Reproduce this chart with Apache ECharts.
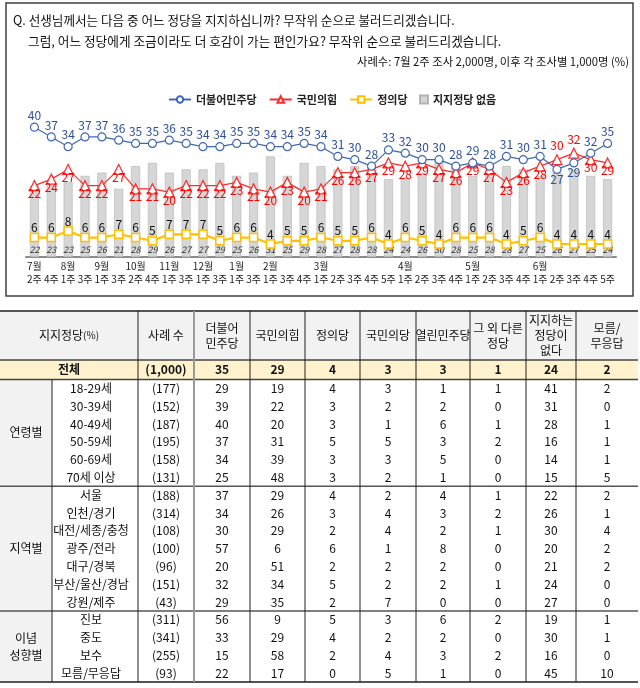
<!DOCTYPE html>
<html><head><meta charset="utf-8">
<script src="https://cdn.jsdelivr.net/npm/echarts@6/dist/echarts.min.js"></script>
<style>html,body{margin:0;padding:0;background:#fff}#c{width:640px;height:688px}</style>
</head><body><div id="c"></div>
<script>
// ---------- chart data ----------
const monthLabels = ['7월','','8월','','9월','','10월','','11월','','12월','','1월','','2월','','','3월','','','','','4월','','','','5월','','','','6월','','','',''];
const weekLabels  = ['2주','4주','1주','3주','1주','3주','2주','4주','1주','3주','1주','3주','1주','3주','1주','3주','4주','1주','2주','3주','4주','5주','1주','2주','3주','4주','1주','2주','3주','4주','1주','2주','3주','4주','5주'];
const minjuTrend   = [40,37,34,37,37,36,35,35,36,35,34,34,35,35,34,34,35,34,31,30,28,33,32,30,30,28,29,28,31,30,31,27,29,32,35];
const pppTrend     = [22,24,27,22,22,27,21,21,20,22,22,22,23,21,20,23,20,21,26,26,27,29,28,29,27,26,29,27,23,26,28,30,32,30,29];
const justiceTrend = [6,6,8,6,6,7,6,5,7,7,7,5,6,6,4,5,5,6,5,5,6,4,6,5,4,6,6,6,4,5,6,4,4,4,4];
const noneTrend    = [22,23,23,25,26,21,28,29,26,27,27,29,25,26,31,25,29,28,27,28,28,24,24,26,30,28,25,28,28,27,25,26,27,25,24];

// ---------- table data ----------
const headerLabels = ['사례 수','더불어\n민주당','국민의힘','정의당','국민의당','열린민주당','그 외 다른\n정당','지지하는\n정당이\n없다','모름/\n무응답'];
const totalLabel = '전체';
const totalRow = ['(1,000)','35','29','4','3','3','1','24','2'];
const groupNames = ['연령별','지역별','이념\n성향별'];
const ageLabels = ['18-29세','30-39세','40-49세','50-59세','60-69세','70세 이상'];
const regionLabels = ['서울','인천/경기','대전/세종/충청','광주/전라','대구/경북','부산/울산/경남','강원/제주'];
const ideoLabels = ['진보','중도','보수','모름/무응답'];
const sampleN   = ['(177)','(152)','(187)','(195)','(158)','(131)','(188)','(314)','(108)','(100)','(96)','(151)','(43)','(311)','(341)','(255)','(93)'];
const colMinju  = [29,39,40,37,34,25,37,34,30,57,20,32,29,56,33,15,22];
const colPPP    = [19,22,20,31,39,48,29,26,29,6,51,34,35,9,29,58,17];
const colJust   = [4,3,3,5,3,3,4,3,2,6,2,5,2,5,4,2,0];
const colPeople = [3,2,1,5,3,2,2,4,4,1,2,2,7,3,2,4,5];
const colOpen   = [1,2,6,3,5,1,4,3,2,8,2,2,0,6,2,3,1];
const colOther  = [1,0,1,2,0,0,1,2,1,0,0,1,0,2,0,2,0];
const colNone   = [41,31,28,16,14,15,22,26,30,20,21,24,27,19,30,16,45];
const colDK     = [2,0,1,1,1,5,2,1,4,2,2,0,0,1,1,0,10];

// ---------- styles ----------
const FONT = "'Noto Sans CJK KR','Noto Sans',sans-serif";
const blueBelow = [31,32];
const redAbove = [31,32];

const g = [];
function txt(x, y, text, o) {
  o = o || {};
  g.push({type:'text', x:x, y:y, z:5, silent:true, style:Object.assign({
    text:text, fontSize:12, fontFamily:FONT, fill:'#111',
    align:o.al||'center', textAlign:o.al||'center', verticalAlign:'middle', textVerticalAlign:'middle'
  }, o.st||{})});
}
function line(x1,y1,x2,y2,c,w){ g.push({type:'line', z:4, silent:true, shape:{x1,y1,x2,y2}, style:{stroke:c, lineWidth:w}}); }
function box(x,y,w,h,c){ g.push({type:'rect', z:1, silent:true, shape:{x,y,width:w,height:h}, style:{fill:c}}); }

// chart frame + header text
g.push({type:'rect', z:0, silent:true, shape:{x:6,y:3,width:627,height:293}, style:{fill:'none', stroke:'#404040', lineWidth:1.5}});
txt(13, 20, 'Q. 선생님께서는 다음 중 어느 정당을 지지하십니까? 무작위 순으로 불러드리겠습니다.', {al:'left', st:{fontSize:12.6}});
txt(28, 41, '그럼, 어느 정당에게 조금이라도 더 호감이 가는 편인가요? 무작위 순으로 불러드리겠습니다.', {al:'left', st:{fontSize:12.7}});
txt(629, 62, '사례수: 7월 2주 조사 2,000명, 이후 각 조사별 1,000명 (%)', {al:'right', st:{fontSize:11.3}});

// ---------- table ----------
const colX = [0, 52, 138, 194, 250, 305, 360, 416, 470, 526, 576, 638];
const tTop = 311, hBot = 360, totBot = 379.5, rowH = 17.8;
const cx = i => (colX[i] + colX[i+1]) / 2;
const groups = [ageLabels, regionLabels, ideoLabels];
const nBody = ageLabels.length + regionLabels.length + ideoLabels.length;
const tBot = totBot + nBody * rowH;

box(0, tTop, 638, hBot - tTop, '#f2f2f2');
box(0, hBot, 638, totBot - hBot, '#fff2cc');
box(0, totBot, 52, nBody * rowH, '#f2f2f2');

// header
g.push({type:'text', x:69, y:(tTop+hBot)/2, z:5, silent:true, style:{
  text:'{a|지지정당}{b|(%)}', align:'center', textAlign:'center', verticalAlign:'middle', textVerticalAlign:'middle',
  rich:{a:{fontSize:12, fontFamily:FONT, fill:'#111'}, b:{fontSize:10, fontFamily:FONT, fill:'#111'}}}});
headerLabels.forEach((h, k) => txt(cx(k+2), (tTop+hBot)/2, h, {st:{lineHeight:15}}));
// total row
txt(69, (hBot+totBot)/2, totalLabel, {st:{fontWeight:'bold'}});
totalRow.forEach((v, k) => txt(cx(k+2), (hBot+totBot)/2, v, {st:{fontWeight:'bold'}}));
// body
const bodyCols = [sampleN, colMinju, colPPP, colJust, colPeople, colOpen, colOther, colNone, colDK];
let r = 0, yStart = totBot;
groups.forEach((labels, gi) => {
  const gh = labels.length * rowH;
  txt(cx(0), yStart + gh/2, groupNames[gi], {st:{lineHeight:17}});
  labels.forEach((lab, li) => {
    const y = yStart + (li + 0.5) * rowH;
    txt(91, y, lab);
    bodyCols.forEach((col, k) => txt(cx(k+2), y, String(col[r])));
    r++;
  });
  yStart += gh;
  if (gi < groups.length - 1) line(0, yStart, 638, yStart, '#555', 1.5);
});
// lines
line(0, tTop, 638, tTop, '#555', 2);
line(0, hBot, 638, hBot, '#444', 1.5);
line(0, totBot, 638, totBot, '#444', 1.5);
line(0, tBot, 638, tBot, '#555', 2);
line(52, totBot, 52, tBot, '#222', 1);
for (let i = 2; i < colX.length - 1; i++) {
  if (i === 3) line(colX[i], tTop, colX[i], tBot, '#9a9a9a', 2);
  else line(colX[i], tTop, colX[i], tBot, '#222', 1);
}

// ---------- series data items ----------
const blueData = minjuTrend.map((v, i) => blueBelow.includes(i) ? {value:v, label:{offset:[0,10]}} : v);
const redData = pppTrend.map((v, i) => redAbove.includes(i) ? {value:v, label:{offset:[0,-14]}} : v);

const chart = echarts.init(document.getElementById('c'), null, {renderer:'canvas'});
chart.setOption({
  animation:false,
  textStyle:{fontFamily:FONT},
  grid:{left:26, right:24, top:111, height:146},
  legend:[
    {data:['더불어민주당','국민의힘','정의당'], left:168, top:94, padding:0, itemWidth:22, itemHeight:8, itemGap:12,
     textStyle:{fontSize:11, fontWeight:'bold', color:'#222', fontFamily:FONT}},
    {data:['지지정당 없음'], left:419, top:94, padding:0, itemWidth:8, itemHeight:8, icon:'rect',
     textStyle:{fontSize:11, fontWeight:'bold', color:'#222', fontFamily:FONT}}
  ],
  xAxis:{type:'category', data:weekLabels.map((w,i)=>monthLabels[i]+w), boundaryGap:true,
    axisLine:{lineStyle:{color:'#8c8c8c', width:2}}, axisTick:{show:false},
    axisLabel:{interval:0, margin:3, fontSize:10, lineHeight:13, color:'#222', fontFamily:FONT,
      formatter:(v,i)=>(monthLabels[i]||' ') + '\n' + weekLabels[i]}},
  yAxis:{type:'value', min:0, max:45, show:false, splitLine:{show:false}},
  graphic:{elements:g},
  series:[
    {name:'지지정당 없음', type:'bar', data:noneTrend, barWidth:9, z:1,
     itemStyle:{color:'#d6d6d6', borderColor:'#b3b3b3', borderWidth:0.6},
     label:{show:true, position:'insideBottom', distance:3, fontSize:9, fontStyle:'italic', color:'#333', fontFamily:FONT}},
    {name:'더불어민주당', type:'line', data:blueData, symbol:'circle', symbolSize:8, z:4,
     lineStyle:{color:'#4168b3', width:1.2}, itemStyle:{color:'#fff', borderColor:'#4168b3', borderWidth:1.2},
     label:{show:true, position:'inside', offset:[0,-12], color:'#2d4f9e', fontSize:12, fontFamily:FONT}},
    {name:'국민의힘', type:'line', data:redData, symbol:'triangle', symbolSize:10, z:3,
     lineStyle:{color:'#ff2a2a', width:1.2}, itemStyle:{color:'#fff', borderColor:'#ff2a2a', borderWidth:1.2},
     label:{show:true, position:'inside', offset:[0,8], color:'#ff0000', fontSize:12, fontFamily:FONT}},
    {name:'정의당', type:'line', data:justiceTrend, symbol:'rect', symbolSize:8, z:3,
     lineStyle:{color:'#ffc000', width:2.2}, itemStyle:{color:'#fff', borderColor:'#ffc000', borderWidth:1.5},
     label:{show:true, position:'inside', offset:[0,-10], color:'#111', fontSize:12, fontFamily:FONT}}
  ]
});
</script></body></html>
